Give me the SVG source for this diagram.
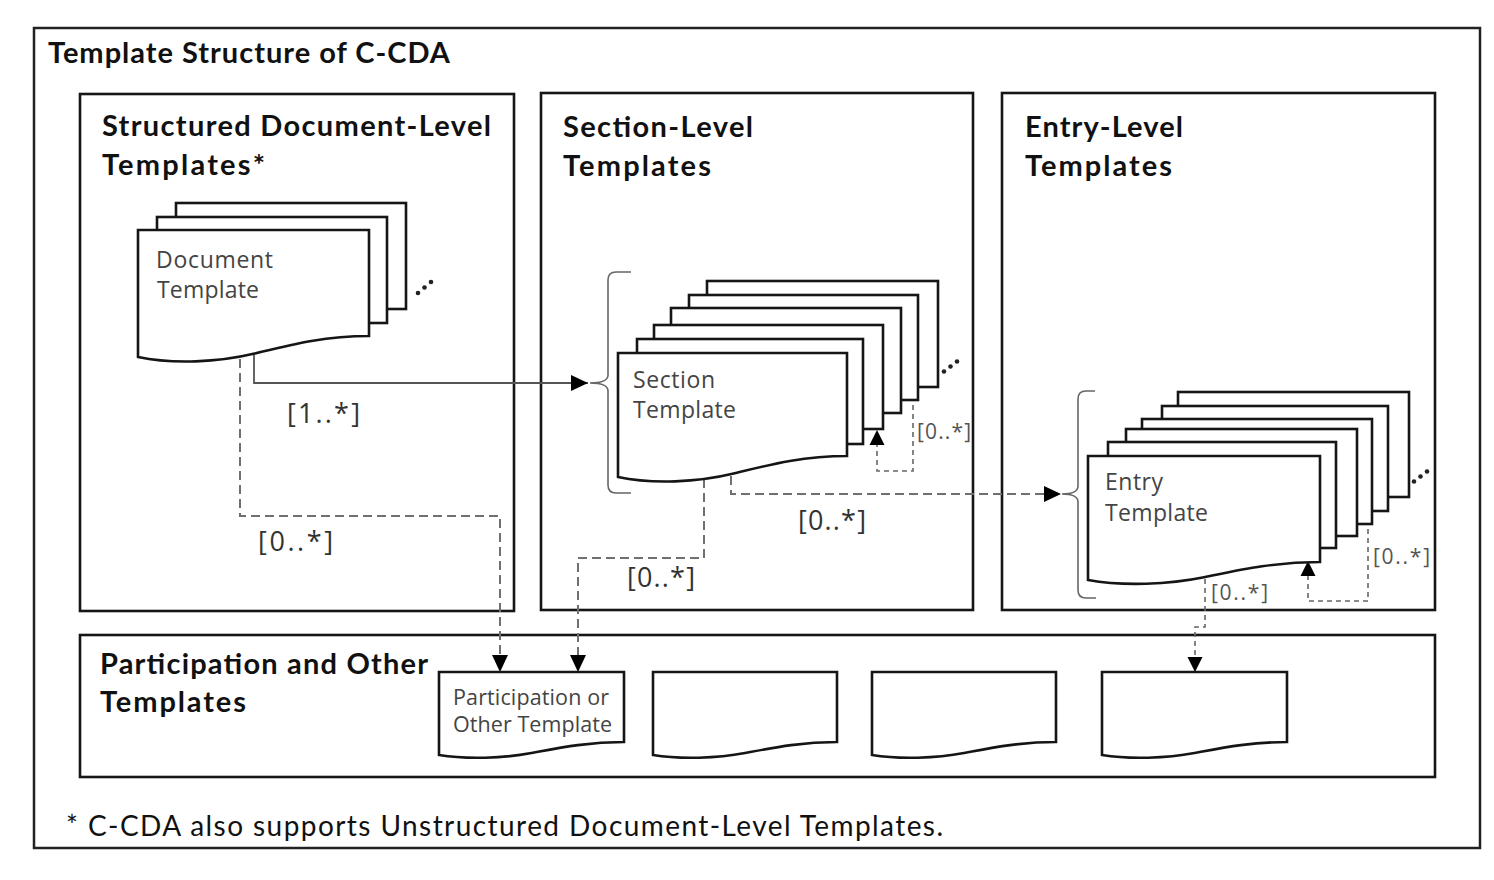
<svg xmlns="http://www.w3.org/2000/svg" width="1494" height="880" viewBox="0 0 1494 880">
<defs>
<style>
.frame{fill:none;stroke:#222;stroke-width:2.5}
.panel{fill:none;stroke:#151515;stroke-width:2.6}
.sheet{fill:#fff;stroke:#151515;stroke-width:2.6}
.title{font-family:Lato,"Liberation Sans",sans-serif;font-weight:700;font-size:29px;fill:#111}
.foot{font-family:Lato,"Liberation Sans",sans-serif;font-size:28px;fill:#111}
.inner{font-family:"Open Sans","DejaVu Sans",sans-serif;font-size:23px;fill:#444}
.pinner{font-family:"Open Sans","DejaVu Sans",sans-serif;font-size:21.5px;fill:#444}
.mult{font-family:"Open Sans","DejaVu Sans",sans-serif;font-size:27px;fill:#333}
.mults{font-family:"Open Sans","DejaVu Sans",sans-serif;font-size:21px;fill:#555}
.solid{fill:none;stroke:#555;stroke-width:1.8}
.dash{fill:none;stroke:#707070;stroke-width:2;stroke-dasharray:9 5}
.dashs{fill:none;stroke:#666;stroke-width:1.6;stroke-dasharray:5 4}
.brace{fill:none;stroke:#666;stroke-width:1.6}
.dot{fill:#222}
</style>
<marker id="arrow" markerUnits="userSpaceOnUse" markerWidth="18" markerHeight="16" refX="17" refY="8" orient="auto">
<path d="M0,0 L17,8 L0,16 Z" fill="#000"/>
</marker>
<marker id="arrowS" markerUnits="userSpaceOnUse" markerWidth="16" markerHeight="16" refX="15" refY="8" orient="auto">
<path d="M0,0.5 L15,8 L0,15.5 Z" fill="#000"/>
</marker>
</defs>
<rect width="1494" height="880" fill="#fff"/>

<g id="outer-frame">
<rect class="frame" x="34" y="28" width="1446" height="820"/>
<text class="title" x="48" y="63" textLength="402">Template Structure of C-CDA</text>
<text class="foot" x="66" y="836" textLength="877">* C-CDA also supports Unstructured Document-Level Templates.</text>
</g>

<g id="panel-document-level">
<rect class="panel" x="80" y="94" width="434" height="517"/>
<text class="title" x="102" y="136" textLength="389">Structured Document-Level</text>
<text class="title" x="102" y="175" textLength="163">Templates*</text>
</g>
<g id="panel-section-level">
<rect class="panel" x="541" y="93" width="432" height="517"/>
<text class="title" x="563" y="137" textLength="190">Section-Level</text>
<text class="title" x="563" y="176" textLength="148">Templates</text>
</g>
<g id="panel-entry-level">
<rect class="panel" x="1002" y="93" width="433" height="517"/>
<text class="title" x="1025" y="137" textLength="158">Entry-Level</text>
<text class="title" x="1025" y="176" textLength="147">Templates</text>
</g>
<g id="panel-participation">
<rect class="panel" x="80" y="635" width="1355" height="142"/>
<text class="title" x="100" y="674" textLength="328">Participation and Other</text>
<text class="title" x="100" y="712" textLength="146">Templates</text>
</g>

<g id="connectors">
<path class="solid" d="M254,340 V383 H588" marker-end="url(#arrow)"/>
<text class="mult" x="287" y="423" textLength="73">[1..*]</text>
<path class="dash" d="M240,345 V516 H500 V672" marker-end="url(#arrow)"/>
<text class="mult" x="258" y="551" textLength="75">[0..*]</text>
<path class="dash" d="M704,465 V558 H578 V672" marker-end="url(#arrow)"/>
<text class="mult" x="627" y="587" textLength="68">[0..*]</text>
<path class="dash" d="M731,462 V494 H1061" marker-end="url(#arrow)"/>
<text class="mult" x="798" y="530" textLength="68">[0..*]</text>
<path class="dashs" d="M913,396 V471 H877 V430" marker-end="url(#arrowS)"/>
<text class="mults" x="917" y="439" textLength="54">[0..*]</text>
<path class="dashs" d="M1368,520 V601 H1308 V561" marker-end="url(#arrowS)"/>
<text class="mults" x="1373" y="564" textLength="57">[0..*]</text>
<path class="dashs" d="M1205,570 V627 H1195 V672" marker-end="url(#arrowS)"/>
<text class="mults" x="1211" y="600" textLength="57">[0..*]</text>
<path class="brace" d="M631,272 H616 Q608,272 608,280 V375 Q608,383 590,383 Q608,383 608,391 V485 Q608,493 616,493 H631"/>
<path class="brace" d="M1095,391 H1086 Q1078,391 1078,399 V486 Q1078,494 1062,494 Q1078,494 1078,502 V590 Q1078,598 1086,598 H1096"/>
</g>

<g id="document-template">
<rect class="sheet" x="176" y="203" width="230" height="106"/>
<rect class="sheet" x="157" y="217" width="230" height="106"/>
<path class="sheet" d="M138,230 H369 V336 C322.8,336 288.15,345.45 253.5,353.85 C218.85,362.25 172.65,364.35 138,357 Z"/>
<text class="inner" x="156" y="268" textLength="117">Document</text>
<text class="inner" x="157" y="298" textLength="102">Template</text>
<circle class="dot" cx="418" cy="293" r="2.3"/>
<circle class="dot" cx="424.5" cy="287.5" r="2.3"/>
<circle class="dot" cx="431" cy="282" r="2.3"/>
</g>

<g id="section-template">
<rect class="sheet" x="707" y="281" width="231" height="106"/>
<rect class="sheet" x="689" y="295" width="229" height="105"/>
<rect class="sheet" x="671" y="308" width="230" height="105"/>
<rect class="sheet" x="654" y="325" width="229" height="104"/>
<rect class="sheet" x="637" y="339" width="226" height="105"/>
<path class="sheet" d="M618,353 H847 V456 C801.2,456 766.85,465.45 732.5,473.85 C698.15,482.25 652.35,484.35 618,477 Z"/>
<text class="inner" x="633" y="388" textLength="82">Section</text>
<text class="inner" x="633" y="418" textLength="103">Template</text>
<circle class="dot" cx="944" cy="371.5" r="2.3"/>
<circle class="dot" cx="950.5" cy="366.5" r="2.3"/>
<circle class="dot" cx="957" cy="361.5" r="2.3"/>
</g>

<g id="entry-template">
<rect class="sheet" x="1178" y="392" width="231" height="105"/>
<rect class="sheet" x="1162" y="406" width="226" height="105"/>
<rect class="sheet" x="1142" y="419" width="230" height="105"/>
<rect class="sheet" x="1126" y="429" width="231" height="107"/>
<rect class="sheet" x="1108" y="442" width="228" height="106"/>
<path class="sheet" d="M1088,456 H1320 V562 C1273.6,562 1238.8,570.1 1204,577.3 C1169.2,584.5 1122.8,586.3 1088,580 Z"/>
<text class="inner" x="1105" y="490" textLength="58">Entry</text>
<text class="inner" x="1105" y="521" textLength="103">Template</text>
<circle class="dot" cx="1414" cy="481.5" r="2.3"/>
<circle class="dot" cx="1420.5" cy="476.5" r="2.3"/>
<circle class="dot" cx="1427" cy="471.5" r="2.3"/>
</g>

<g id="participation-template-1">
<path class="sheet" d="M439,672 H624 V742 C587,742 559.25,747.85 531.5,753.05 C503.75,758.25 466.75,759.55 439,755 Z"/>
<text class="pinner" x="453" y="705" textLength="156">Participation or</text>
<text class="pinner" x="453" y="732" textLength="159">Other Template</text>
</g>
<g id="participation-template-2">
<path class="sheet" d="M653,672 H837 V742 C800.2,742 772.6,747.85 745,753.05 C717.4,758.25 680.6,759.55 653,755 Z"/>
</g>
<g id="participation-template-3">
<path class="sheet" d="M872,672 H1056 V742 C1019.2,742 991.6,747.85 964,753.05 C936.4,758.25 899.6,759.55 872,755 Z"/>
</g>
<g id="participation-template-4">
<path class="sheet" d="M1102,672 H1287 V742 C1250,742 1222.25,747.85 1194.5,753.05 C1166.75,758.25 1129.75,759.55 1102,755 Z"/>
</g>
</svg>
